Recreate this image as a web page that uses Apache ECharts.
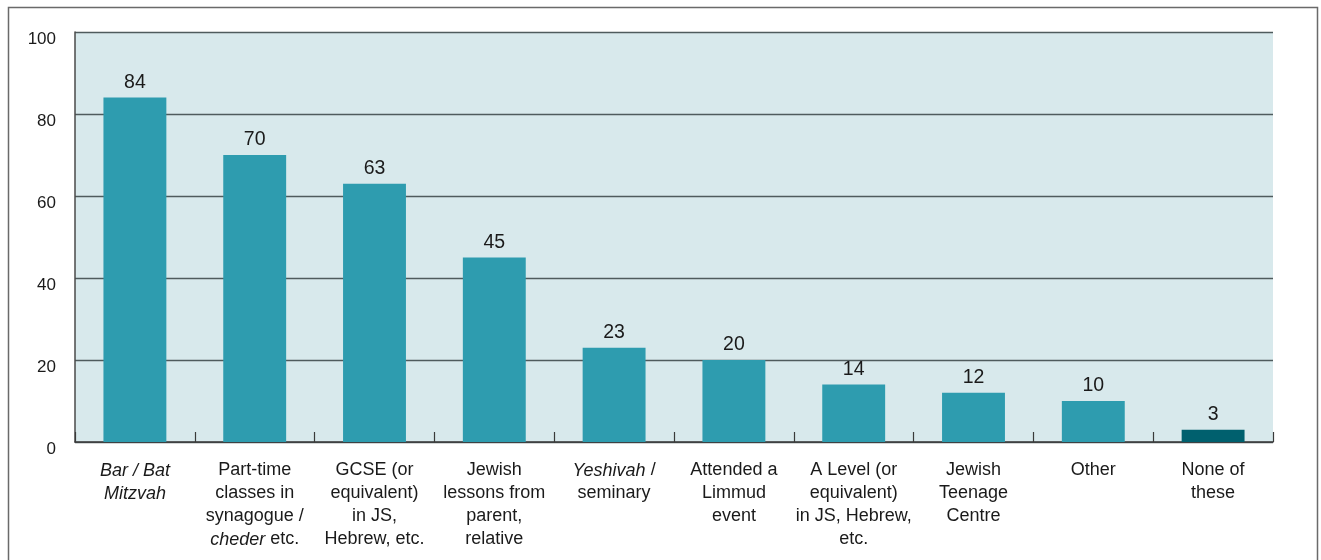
<!DOCTYPE html>
<html><head><meta charset="utf-8">
<script src="https://cdn.jsdelivr.net/npm/echarts@6/dist/echarts.min.js"></script>
<style>html,body{margin:0;padding:0;background:#fff}#c{width:1321px;height:560px}</style>
</head><body><div id="c"></div>
<script>
const categories = [
  '{i|Bar / Bat}\n{i|Mitzvah}',
  'Part-time\nclasses in\nsynagogue /\n{i|cheder} etc.',
  'GCSE (or\nequivalent)\nin JS,\nHebrew, etc.',
  'Jewish\nlessons from\nparent,\nrelative',
  '{i|Yeshivah} /\nseminary',
  'Attended a\nLimmud\nevent',
  'A Level (or\nequivalent)\nin JS, Hebrew,\netc.',
  'Jewish\nTeenage\nCentre',
  'Other',
  'None of\nthese'
];
const values = [84, 70, 63, 45, 23, 20, 14, 12, 10, 3];
const yTicks = { min: 0, max: 100, interval: 20 };

const chart = echarts.init(document.getElementById('c'), null, {renderer: 'canvas'});
const font = '"Liberation Sans", Arial, sans-serif';
chart.setOption({
  animation: false,
  graphic: [{
    type: 'rect', shape: {x: 8.5, y: 7.5, width: 1309, height: 600},
    style: {fill: 'none', stroke: '#6a6a6a', lineWidth: 1.5}, silent: true
  }],
  grid: {left: 75, right: 48, top: 32, bottom: 118, show: true, backgroundColor: '#d8e9ec', borderWidth: 0},
  xAxis: {
    type: 'category', data: categories,
    axisLine: {show: true, lineStyle: {color: '#3a3a3a', width: 1.5}},
    axisTick: {show: true, inside: true, length: 10, alignWithLabel: false, lineStyle: {color: '#3a3a3a', width: 1.2}},
    axisLabel: {
      interval: 0, margin: 17, color: '#1a1a1a', fontFamily: font, fontSize: 18, lineHeight: 23,
      rich: {i: {fontStyle: 'italic', fontFamily: font, fontSize: 18, lineHeight: 23, color: '#1a1a1a'}}
    }
  },
  yAxis: {
    type: 'value', min: yTicks.min, max: yTicks.max, interval: yTicks.interval,
    axisLine: {show: true, lineStyle: {color: '#4a4a4a', width: 1.5}},
    axisTick: {show: false},
    splitLine: {show: true, lineStyle: {color: '#4f5b5d', width: 1.3}},
    axisLabel: {margin: 19, color: '#1a1a1a', fontFamily: font, fontSize: 17, verticalAlign: 'top', lineHeight: 17, padding: [-1, 0, 0, 0]}
  },
  series: [{
    type: 'bar', barWidth: '52.5%',
    data: values.map((v, i) => i === values.length - 1 ? {value: v, itemStyle: {color: '#00606e'}} : v),
    itemStyle: {color: '#2e9caf'},
    label: {show: true, position: 'top', distance: 5, color: '#1a1a1a', fontFamily: font, fontSize: 19.5}
  }]
});
</script></body></html>
